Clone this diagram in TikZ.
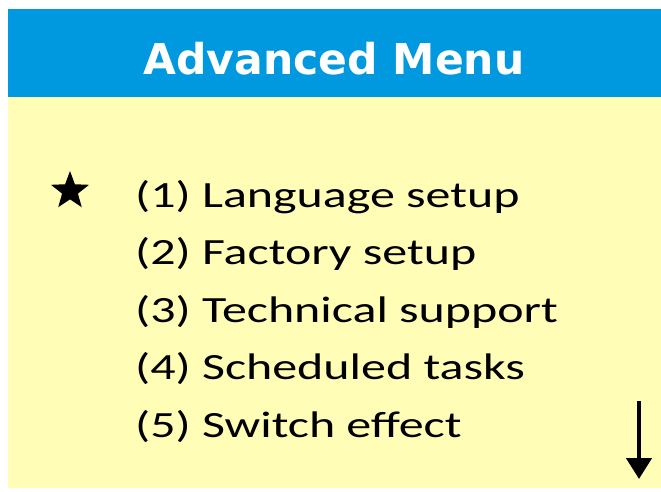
\documentclass[tikz,border=0pt]{standalone}
\usepackage{fontspec}
\setmainfont{Carlito}
\newfontfamily\titlefont{DejaVu Sans}
\usetikzlibrary{shapes.geometric,arrows.meta}
\definecolor{hdrblue}{RGB}{0,153,224}
\definecolor{panelyellow}{RGB}{255,253,182}
\tikzset{
  itemtext/.style={anchor=base west, inner sep=0pt, font=\fontsize{37}{40}\selectfont},
  titletext/.style={anchor=base, inner sep=0pt, text=white, font=\titlefont\bfseries\fontsize{42.5}{46}\selectfont},
}
\begin{document}
\begin{tikzpicture}[x=1pt,y=-1pt]
\useasboundingbox (0,0) rectangle (661,492);
\fill[white] (0,0) rectangle (661,492);
\fill[panelyellow] (8,97) rectangle (661,488);
\fill[hdrblue] (8,9) rectangle (661,97);
\node[titletext] (title) at (334,74.5) {Advanced Menu};
\node[star, star points=5, star point ratio=2.4, fill=black, inner sep=0pt, minimum size=40pt] (mark) at (70,191) {};
\node[itemtext] (i1) at (135,207) {\scalebox{1.35}[1]{(1) Language setup}};
\node[itemtext] (i2) at (135,264.5) {\scalebox{1.35}[1]{(2) Factory setup}};
\node[itemtext] (i3) at (135,322) {\scalebox{1.35}[1]{(3) Technical support}};
\node[itemtext] (i4) at (135,379.5) {\scalebox{1.35}[1]{(4) Scheduled tasks}};
\node[itemtext] (i5) at (135,437) {\scalebox{1.35}[1]{(5) Switch effect}};
\coordinate (atop) at (639,401);
\coordinate (abot) at (639,479);
\draw[line width=4.5pt, -{Triangle[width=25pt,length=21pt]}] (atop) -- (abot);
\end{tikzpicture}
\end{document}
